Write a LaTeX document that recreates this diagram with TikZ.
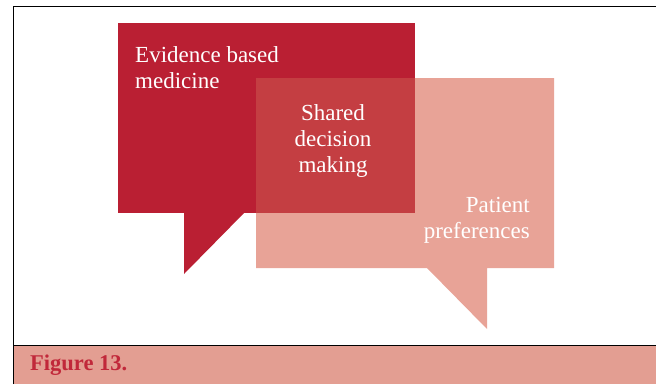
\documentclass[tikz,border=0pt]{standalone}
\usepackage{fontspec}
\setmainfont{Liberation Serif}
\usetikzlibrary{positioning}
\definecolor{ebmred}{HTML}{BA1F33}
\definecolor{prefpink}{HTML}{E8A397}
\definecolor{sdmred}{HTML}{C43E42}
\definecolor{bandpink}{HTML}{E39E92}
\definecolor{captionred}{HTML}{C1283A}

\begin{document}
\begin{tikzpicture}[x=1pt,y=-1pt,
    bubbletext/.style={text=white, inner sep=0pt, font=\fontsize{23}{26}\selectfont}]
    \useasboundingbox (0,0) rectangle (656,384);

    % frame and caption band
    \fill[bandpink] (14,345) rectangle (656,384);
    \draw[line width=1pt] (13.5,384) -- (13.5,6) -- (656,6);
    \draw[line width=1pt] (13.5,345) -- (656,345);

    % evidence based medicine bubble
    \fill[ebmred] (118,23) rectangle (415,213);
    \fill[ebmred] (184,212) -- (184,274) -- (245,212) -- cycle;

    % patient preferences bubble
    \fill[prefpink] (256,78) -- (554,78) -- (554,268) -- (487,268)
        -- (487,329) -- (427,268) -- (256,268) -- cycle;

    % overlap
    \fill[sdmred] (256,78) rectangle (415,213);

    % labels (base = last line)
    \node[bubbletext, align=left, anchor=base west] (ebm) at (135,88)
        {Evidence based\\medicine};
    \node[bubbletext, align=center, anchor=base] (sdm) at (333,172)
        {Shared\\decision\\making};
    \node[bubbletext, align=right, anchor=base east] (pref) at (530,238)
        {Patient\\preferences};

    \node[anchor=base west, inner sep=0pt, text=captionred,
        font=\fontsize{22.5}{26}\selectfont\bfseries] (caption) at (30,370.5)
        {Figure 13.};
\end{tikzpicture}
\end{document}
